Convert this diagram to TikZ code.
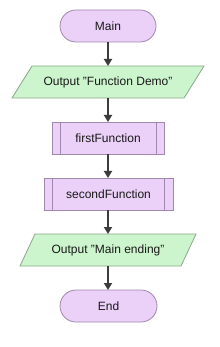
\documentclass[tikz,border=0pt]{standalone}
\usepackage{fontspec}
\setmainfont{Liberation Sans}
\usetikzlibrary{shapes.misc,arrows.meta,calc}
\definecolor{termfill}{HTML}{EBD0F8}
\definecolor{termdraw}{HTML}{A088AE}
\definecolor{iofill}{HTML}{CDF5CD}
\definecolor{iodraw}{HTML}{8AA88A}
\definecolor{arrcol}{HTML}{3C3C3C}
\tikzset{
  base/.style={font=\fontsize{12}{14}\selectfont, text=black!90, inner sep=0pt, outer sep=0pt, minimum height=32pt},
  term/.style={base, rounded rectangle, draw=termdraw, fill=termfill, line width=0.8pt, minimum width=96pt},
  procbox/.style={base, rectangle, draw=termdraw, fill=termfill, line width=0.8pt},
  iobox/.style={base, rectangle},
  ioshape/.style={draw=iodraw, fill=iofill, line width=0.8pt, line join=miter},
  innerline/.style={draw=termdraw, line width=0.8pt},
  arr/.style={draw=arrcol, line width=2pt, -{Triangle[length=7pt,width=8pt]}}
}
\begin{document}
\begin{tikzpicture}[x=1pt,y=-1pt]
\useasboundingbox[fill=white] (0,0) rectangle (219,347);
% Main
\node[term] (main) at (108,26) {Main};
% Output 1
\node[iobox, minimum width=192pt] (out1) at (108,82) {};
\draw[ioshape] ($(out1.north west)+(20,0)$) -- (out1.north east) -- ($(out1.south east)+(-20,0)$) -- (out1.south west) -- cycle;
\node[base] (out1t) at (out1.center) {Output "Function Demo"};
% firstFunction
\node[procbox, minimum width=112pt] (f1) at (108,138) {firstFunction};
\draw[innerline] ($(f1.north west)+(8,0)$) -- ($(f1.south west)+(8,0)$);
\draw[innerline] ($(f1.north east)+(-8,0)$) -- ($(f1.south east)+(-8,0)$);
% secondFunction
\node[procbox, minimum width=129pt] (f2) at (108.5,194) {secondFunction};
\draw[innerline] ($(f2.north west)+(8,0)$) -- ($(f2.south west)+(8,0)$);
\draw[innerline] ($(f2.north east)+(-9,0)$) -- ($(f2.south east)+(-9,0)$);
% Output 2
\node[iobox, minimum width=176pt] (out2) at (108,250) {};
\draw[ioshape] ($(out2.north west)+(15,0)$) -- (out2.north east) -- ($(out2.south east)+(-15,0)$) -- (out2.south west) -- cycle;
\node[base] (out2t) at (out2.center) {Output "Main ending"};
% End
\node[term, minimum width=97pt] (end) at (108.5,306) {End};
% arrows
\draw[arr] (main.south) -- (out1.north);
\draw[arr] (out1.south) -- (f1.north);
\draw[arr] (f1.south) -- (f2.north -| f1.south);
\draw[arr] (f2.south -| f1.south) -- (out2.north);
\draw[arr] (out2.south) -- (end.north -| out2.south);
\end{tikzpicture}
\end{document}
